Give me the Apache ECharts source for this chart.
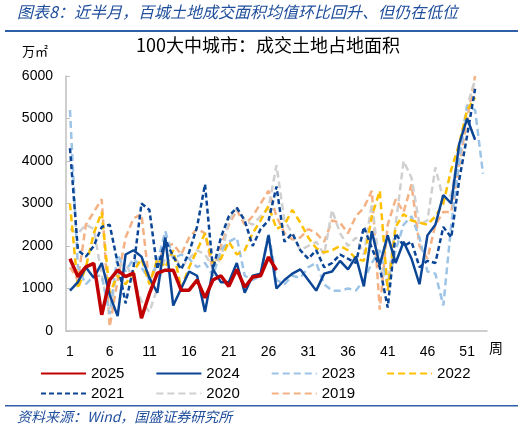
<!DOCTYPE html>
<html><head><meta charset="utf-8">
<script src="https://cdn.jsdelivr.net/npm/echarts@6/dist/echarts.min.js"></script>
<style>html,body{margin:0;padding:0;background:#fff}#c{width:525px;height:433px}</style>
</head><body><div id="c"></div>
<script>
const weeks = Array.from({length:53}, (_, i) => String(i + 1));
const seriesNames = ['2025','2024','2023','2022','2021','2020','2019'];
const y2025 = [1700,1280,1510,1590,380,1200,1430,1280,1360,300,880,1360,1430,1430,960,960,1200,780,1200,1300,1050,1450,1030,1270,1300,1740,1430];
const y2024 = [950,1150,1500,1250,1600,850,350,1800,1900,1750,1250,900,2200,600,1000,1400,1300,450,1450,1150,1150,1600,900,1300,1350,2250,1000,1200,1350,1450,1200,950,1350,1400,1650,1450,1750,1050,2350,1550,2250,1600,2100,1700,1100,2250,2500,3200,3000,4400,5000,4500];
const y2023 = [5200,1500,1100,1300,1300,400,1800,1400,1700,1500,1200,1600,2350,1700,1800,1700,1500,1600,1300,1900,2100,2200,1300,1200,1300,2300,1200,1100,1300,1250,1500,1600,1100,950,950,1000,950,1200,1600,1900,1100,1900,2500,2700,2200,1400,1350,600,2500,4000,5300,5200,3700];
const y2022 = [3000,1000,1500,2300,2800,900,1300,1100,1400,1700,1100,1700,1500,1900,1000,1500,1900,2300,1600,1700,2100,1800,1900,2300,2600,2950,2400,2500,2850,2550,2200,1950,1850,1900,2000,1900,1700,1650,2700,3300,950,2450,2750,2600,2550,2500,2700,3000,3800,4400,5200,5500];
const y2021 = [4300,1900,1750,2000,2450,2500,1600,650,1500,3000,2850,1450,2150,1750,1450,1850,2450,3450,1450,2200,2700,2900,2600,2000,2400,2600,3400,2100,2300,1900,1700,1900,1500,1600,1800,1700,1600,2450,1950,1500,550,2300,2000,2100,1500,1650,1600,2450,2200,3550,4600,5700];
const y2020 = [2400,2300,2500,2400,1300,400,1500,1600,1200,700,450,1000,1750,1800,1500,1700,1900,1800,1500,1700,2600,2900,2600,2500,2700,2900,3900,2600,2300,1900,2000,2100,1800,2850,2300,2000,2200,1800,3000,1500,1100,2500,4000,3600,2500,2600,3850,3100,3200,4300,5300,5900];
const y2019 = [1500,1200,2500,2800,3100,100,1200,2200,2650,2750,1100,1600,2000,2050,1800,2200,2400,2300,1400,2000,2500,2850,2500,2700,3000,3300,2700,2300,2150,2200,2400,2300,2100,2600,2550,2300,2700,2900,3300,500,2500,3100,2800,3450,2000,1700,2500,2800,2800,3900,5000,6000];
const yTicks = {min:0, max:6000, interval:1000};

const dataByName = {'2025':y2025,'2024':y2024,'2023':y2023,'2022':y2022,'2021':y2021,'2020':y2020,'2019':y2019};
const styles = {
  '2025': {color:'#C00000', width:3.5, type:'solid', z:10},
  '2024': {color:'#0B4596', width:2.5, type:'solid', z:9},
  '2023': {color:'#9DC3E6', width:2.5, type:[7,4], z:3},
  '2022': {color:'#FFC000', width:2.5, type:[7,4], z:4},
  '2021': {color:'#0B4596', width:2.5, type:[5,3], z:5},
  '2020': {color:'#D0D0D0', width:2.5, type:[7,4], z:2},
  '2019': {color:'#F4B183', width:2.5, type:[7,4], z:1}
};
const font = '"Liberation Sans", Arial, "Noto Sans CJK SC", sans-serif';
const cjk = '"Noto Sans CJK SC", sans-serif';

const chart = echarts.init(document.getElementById('c'), null, {renderer:'canvas'});
chart.setOption({
  animation:false,
  textStyle:{fontFamily:font},
  grid:{left:66, right:38, top:76, bottom:102, containLabel:false},
  xAxis:{type:'category', data:weeks, boundaryGap:true,
    axisLine:{lineStyle:{color:'#BFBFBF', width:1.5}},
    axisTick:{show:false},
    axisLabel:{interval:4, color:'#000', fontSize:14, margin:14, fontFamily:font}},
  yAxis:{type:'value', min:yTicks.min, max:yTicks.max, interval:yTicks.interval,
    splitLine:{show:false},
    axisLine:{show:true, lineStyle:{color:'#BFBFBF', width:1.5}},
    axisTick:{show:true, inside:true, length:4, lineStyle:{color:'#BFBFBF'}},
    axisLabel:{color:'#000', fontSize:14, margin:13, fontFamily:font, formatter:v => String(v)}},
  legend:[
    {data:['2025','2024','2023','2022'], left:35, top:361, itemWidth:45, itemHeight:14, itemGap:31,
     textStyle:{fontSize:15, color:'#000', fontFamily:font}, itemStyle:{opacity:0}},
    {data:['2021','2020','2019'], left:35, top:381, itemWidth:45, itemHeight:14, itemGap:31,
     textStyle:{fontSize:15, color:'#000', fontFamily:font}, itemStyle:{opacity:0}}
  ],
  series: seriesNames.map(n => ({
    name:n, type:'line', data:dataByName[n], symbol:'none', smooth:false, z:styles[n].z,
    lineStyle:{color:styles[n].color, width:styles[n].width, type:styles[n].type},
    itemStyle:{color:styles[n].color}
  })),
  graphic:[
    {type:'text', left:17, top:4, style:{text:'图表8：近半月，百城土地成交面积均值环比回升、但仍在低位', fill:'#1F4E9C', font:'italic 16px '+cjk}},
    {type:'rect', shape:{x:5, y:30, width:513, height:2}, style:{fill:'#2E5FA8'}},
    {type:'text', left:136, top:36, style:{text:'100大中城市：成交土地占地面积', fill:'#000', font:'18px '+cjk}},
    {type:'text', left:22, top:45, style:{text:'万㎡', fill:'#000', font:'13px '+cjk}},
    {type:'text', left:489, top:341, style:{text:'周', fill:'#000', font:'14px '+cjk}},
    {type:'rect', shape:{x:5, y:405, width:513, height:1.5}, style:{fill:'#2E5FA8'}},
    {type:'text', left:17, top:410, style:{text:'资料来源：Wind，国盛证券研究所', fill:'#1F4E9C', font:'italic 14px '+cjk}}
  ]
});
</script></body></html>
